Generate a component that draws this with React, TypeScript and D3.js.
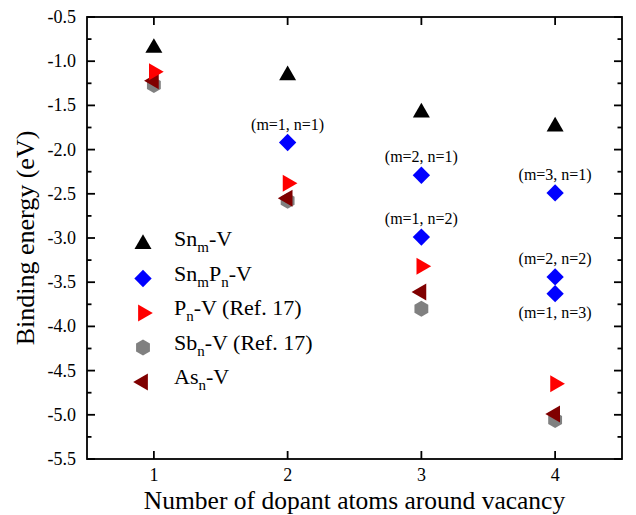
import React, { useRef, useEffect } from 'react';
import * as d3 from 'd3';

// values
const counts = [1, 2, 3, 4];
const snV = [-0.85, -1.16, -1.58, -1.74];
const pV = [-1.12, -2.38, -3.32, -4.65];
const sbV = [-1.27, -2.58, -3.8, -5.06];
const asV = [-1.22, -2.55, -3.61, -4.99];
const snpCounts = [2, 3, 3, 4, 4, 4];
const snpV = [-1.92, -2.29, -2.99, -2.49, -3.44, -3.63];
const snpLabels = ['(m=1, n=1)', '(m=2, n=1)', '(m=1, n=2)', '(m=3, n=1)', '(m=2, n=2)', '(m=1, n=3)'];
const snpLabelBelow = [false, false, false, false, false, true];
const yTicks = [-0.5, -1.0, -1.5, -2.0, -2.5, -3.0, -3.5, -4.0, -4.5, -5.0, -5.5];

type Seg = [string, boolean];
const legendNames: Seg[][] = [
  [['Sn', false], ['m', true], ['-V', false]],
  [['Sn', false], ['m', true], ['P', false], ['n', true], ['-V', false]],
  [['P', false], ['n', true], ['-V (Ref. 17)', false]],
  [['Sb', false], ['n', true], ['-V (Ref. 17)', false]],
  [['As', false], ['n', true], ['-V', false]],
];

const hexagon = (r: number) => {
  const pts = d3.range(6).map(i => {
    const a = i * Math.PI / 3;
    return [r * Math.sin(a), -r * Math.cos(a)];
  });
  return 'M' + pts.map(p => p.join(',')).join('L') + 'Z';
};

const markers = {
  sn: { d: d3.symbol(d3.symbolTriangle, 125)()!, rot: 0, color: '#000000' },
  snp: { d: d3.symbol(d3.symbolSquare, 150)()!, rot: 45, color: '#0000ff' },
  p: { d: d3.symbol(d3.symbolTriangle, 125)()!, rot: 90, color: '#ff0000' },
  sb: { d: hexagon(8), rot: 0, color: '#808080' },
  as: { d: d3.symbol(d3.symbolTriangle, 125)()!, rot: -90, color: '#800000' },
};
const legendOrder = [markers.sn, markers.snp, markers.p, markers.sb, markers.as];

export default function App() {
  const svgRef = useRef<SVGSVGElement>(null);

  useEffect(() => {
    const width = 636;
    const height = 515;
    const margin = { top: 17, right: 14, bottom: 56, left: 87 };
    const svg = d3.select(svgRef.current);
    svg.selectAll('*').remove();
    svg.attr('viewBox', `0 0 ${width} ${height}`);

    svg.style('font-family', 'Liberation Serif');
    const x = d3.scaleLinear().domain([0.5, 4.5]).range([margin.left, width - margin.right]);
    const y = d3.scaleLinear().domain([-0.5, -5.5]).range([margin.top, height - margin.bottom]);
    const [x0, x1] = x.range();
    const [y0, y1] = y.range();

    const frame = svg.append('g').attr('stroke', '#000').attr('stroke-width', 1.8).attr('fill', 'none');
    frame.append('rect').attr('x', x0).attr('y', y0).attr('width', x1 - x0).attr('height', y1 - y0);

    const major = 8;
    const minor = 4.5;
    counts.forEach(c => {
      frame.append('line').attr('x1', x(c)).attr('x2', x(c)).attr('y1', y1).attr('y2', y1 - major);
      frame.append('line').attr('x1', x(c)).attr('x2', x(c)).attr('y1', y0).attr('y2', y0 + major);
    });
    yTicks.forEach((t, i) => {
      frame.append('line').attr('x1', x0).attr('x2', x0 + major).attr('y1', y(t)).attr('y2', y(t));
      frame.append('line').attr('x1', x1).attr('x2', x1 - major).attr('y1', y(t)).attr('y2', y(t));
      if (i < yTicks.length - 1) {
        const m = t - 0.25;
        frame.append('line').attr('x1', x0).attr('x2', x0 + minor).attr('y1', y(m)).attr('y2', y(m));
        frame.append('line').attr('x1', x1).attr('x2', x1 - minor).attr('y1', y(m)).attr('y2', y(m));
      }
    });

    svg.append('g').selectAll('text').data(counts).join('text')
      .attr('x', d => x(d)).attr('y', y1 + 22)
      .attr('text-anchor', 'middle').attr('font-size', 18)
      .text(d => d3.format('d')(d));

    svg.append('g').selectAll('text').data(yTicks).join('text')
      .attr('x', x0 - 11).attr('y', d => y(d) + 6)
      .attr('text-anchor', 'end').attr('font-size', 18)
      .text(d => d3.format('.1f')(d).replace('−', '-'));

    svg.append('text')
      .attr('x', (x0 + x1) / 2).attr('y', 509)
      .attr('text-anchor', 'middle').attr('font-size', 25.5)
      .text('Number of dopant atoms around vacancy');

    svg.append('text')
      .attr('transform', `translate(34,${(y0 + y1) / 2}) rotate(-90)`)
      .attr('text-anchor', 'middle').attr('font-size', 26)
      .text('Binding energy (eV)');

    const drawSeries = (xs: number[], vs: number[], mk: { d: string; rot: number; color: string }) => {
      svg.append('g').selectAll('path').data(vs).join('path')
        .attr('d', mk.d)
        .attr('fill', mk.color)
        .attr('transform', (d, i) => `translate(${x(xs[i])},${y(d)}) rotate(${mk.rot})`);
    };
    drawSeries(counts, sbV, markers.sb);
    drawSeries(counts, asV, markers.as);
    drawSeries(counts, pV, markers.p);
    drawSeries(snpCounts, snpV, markers.snp);
    drawSeries(counts, snV, markers.sn);

    svg.append('g').selectAll('text').data(snpLabels).join('text')
      .attr('x', (d, i) => x(snpCounts[i]))
      .attr('y', (d, i) => y(snpV[i]) + (snpLabelBelow[i] ? 24 : -13))
      .attr('text-anchor', 'middle').attr('font-size', 16)
      .text(d => d);

    const legend = svg.append('g');
    legendNames.forEach((segs, i) => {
      const cy = 244 + i * 34.5;
      const mk = legendOrder[i];
      legend.append('path').attr('d', mk.d).attr('fill', mk.color)
        .attr('transform', `translate(143,${cy}) rotate(${mk.rot})`);
      const t = legend.append('text').attr('x', 174).attr('y', cy + 8).attr('font-size', 22);
      segs.forEach(([s, sub]) => {
        if (sub) t.append('tspan').attr('font-size', 15).attr('dy', 6).text(s);
        else t.append('tspan').attr('dy', t.selectAll('tspan').size() > 0 ? -6 : 0).text(s);
      });
    });
  }, []);

  return <svg ref={svgRef} width={636} height={515} style={{ position: 'absolute', left: 0, top: 0 }} />;
}
